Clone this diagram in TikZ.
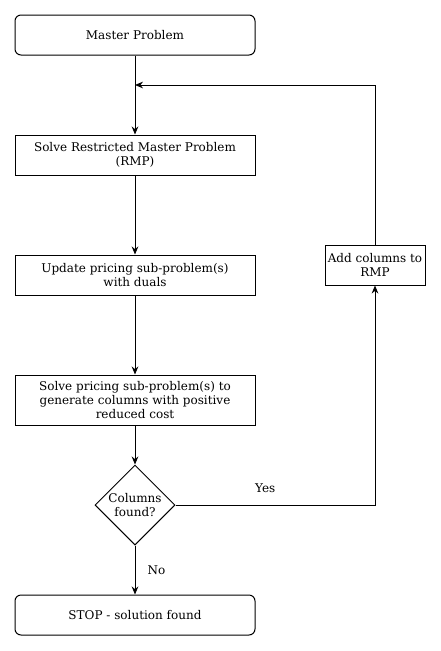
\documentclass[tikz,border=0pt]{standalone}
\usepackage{fontspec}
\setmainfont{DejaVu Serif}
\usetikzlibrary{shapes.geometric,arrows.meta}
\begin{document}
\begin{tikzpicture}[x=0.75pt, y=-0.75pt, line width=0.75pt, >={Stealth[length=6pt,width=5pt]},
    every node/.style={font=\fontsize{9}{10.5}\selectfont, align=center, inner sep=0pt},
    stepbox/.style={draw, minimum width=180pt, minimum height=30pt},
    endbox/.style={stepbox, rounded corners=4.5pt},
    decbox/.style={draw, diamond, minimum width=60pt, minimum height=60pt, inner sep=-3pt}]
    \useasboundingbox (0,0) rectangle (441,651);
    % boxes
    \node [endbox] (master) at (135,35) {Master Problem};
    \node [stepbox] (rmp) at (135,155) {Solve Restricted Master Problem\\(RMP)};
    \node [stepbox] (upd) at (135,275) {Update pricing sub-problem(s)\\with duals};
    \node [stepbox, minimum height=37.5pt] (gen) at (135,400) {Solve pricing sub-problem(s) to\\generate columns with positive\\reduced cost};
    \node [decbox] (found) at (135,505) {Columns\\found?};
    \node [endbox] (stop) at (135,615) {STOP - solution found};
    \node [stepbox, minimum width=75pt] (addc) at (375,265) {Add columns to\\RMP};
    \coordinate (back) at (135,85);
    % arrows
    \draw [->] (master) -- (rmp);
    \draw [->] (addc.north) |- (back);
    \draw [->] (rmp) -- (upd);
    \draw [->] (upd) -- (gen);
    \draw [->] (gen) -- (found);
    \draw [->] (found) -- node [right=9pt] {No} (stop);
    \draw [->] (found.east) -| node [pos=0.225, above=9pt] {Yes} (addc.south);
\end{tikzpicture}
\end{document}
